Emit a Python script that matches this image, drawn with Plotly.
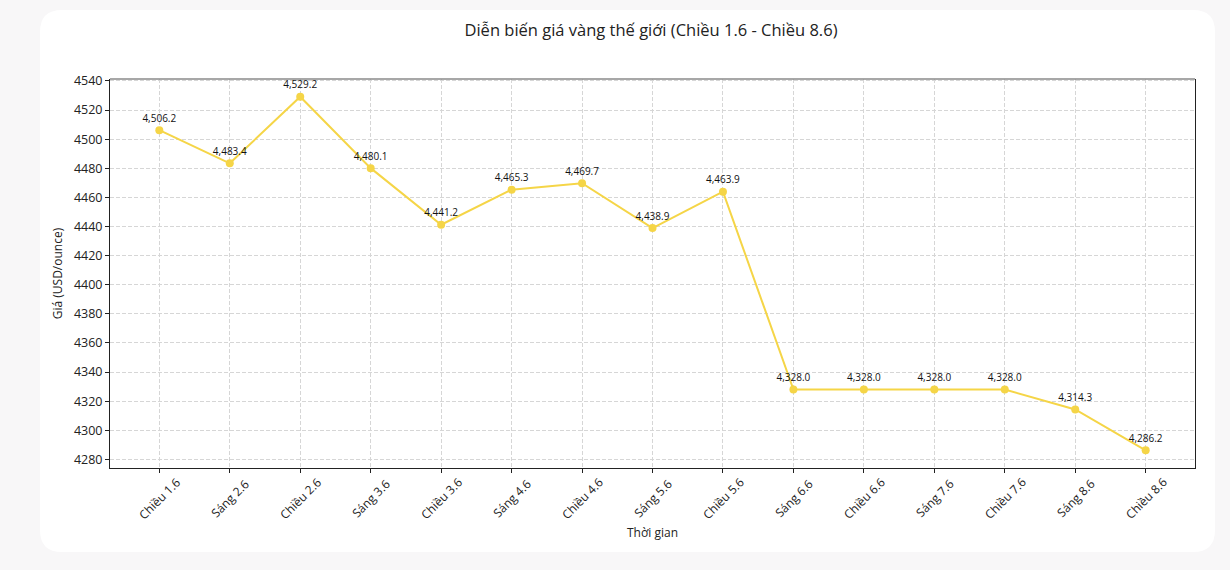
import plotly.graph_objects as go

categories = ["Chiều 1.6", "Sáng 2.6", "Chiều 2.6", "Sáng 3.6", "Chiều 3.6", "Sáng 4.6",
              "Chiều 4.6", "Sáng 5.6", "Chiều 5.6", "Sáng 6.6", "Chiều 6.6", "Sáng 7.6",
              "Chiều 7.6", "Sáng 8.6", "Chiều 8.6"]
prices = [4506.2, 4483.4, 4529.2, 4480.1, 4441.2, 4465.3, 4469.7, 4438.9, 4463.9,
          4328.0, 4328.0, 4328.0, 4328.0, 4314.3, 4286.2]
y_ticks = list(range(4280, 4541, 20))

W, H = 1230, 570
L, R, T, B = 110, 35, 79, 102
pw, ph = W - L - R, H - T - B

FONT = "Open Sans"
LINE = "#f5d547"
GRID = "#d6d6d6"

xs = list(range(len(categories)))

fig = go.Figure()
fig.add_trace(go.Scatter(
    x=xs, y=prices, mode="lines+markers+text",
    line=dict(color=LINE, width=2), marker=dict(color=LINE, size=8),
    text=[f"{v:,.1f}" for v in prices], textposition="top center",
    textfont=dict(family=FONT, size=10, color="#111"), cliponaxis=False,
    hoverinfo="skip", showlegend=False))

# rounded white card
def px(x):
    return (x - L) / pw
def py(y):
    return (H - B - y) / ph
cx0, cx1, cy0, cy1, r = 40, 1215, 10, 552, 22
path = (f"M {px(cx0 + r)} {py(cy0)} L {px(cx1 - r)} {py(cy0)} "
        f"Q {px(cx1)} {py(cy0)} {px(cx1)} {py(cy0 + r)} "
        f"L {px(cx1)} {py(cy1 - r)} Q {px(cx1)} {py(cy1)} {px(cx1 - r)} {py(cy1)} "
        f"L {px(cx0 + r)} {py(cy1)} Q {px(cx0)} {py(cy1)} {px(cx0)} {py(cy1 - r)} "
        f"L {px(cx0)} {py(cy0 + r)} Q {px(cx0)} {py(cy0)} {px(cx0 + r)} {py(cy0)} Z")
fig.add_shape(type="path", path=path, xref="paper", yref="paper",
              fillcolor="white", line=dict(width=0), layer="below")
# top spine (grey)
fig.add_shape(type="line", xref="paper", yref="paper", x0=0, x1=1, y0=1, y1=1,
              line=dict(color="#8a8a8a", width=1.5))

# rotated category labels centred under ticks
for i, c in enumerate(categories):
    fig.add_annotation(x=i, y=0, xref="x", yref="paper", text=c, showarrow=False,
                       textangle=-45, xanchor="center", yanchor="middle",
                       yshift=-30, font=dict(family=FONT, size=12, color="#222"))

ymin, ymax = min(prices), max(prices)
pad = (ymax - ymin) * 0.05

fig.update_layout(
    width=W, height=H, margin=dict(l=L, r=R, t=T, b=B),
    paper_bgcolor="#f8f7f8", plot_bgcolor="white",
    font=dict(family=FONT, color="#222"),
    title=dict(text="Diễn biến giá vàng thế giới (Chiều 1.6 - Chiều 8.6)",
               xref="container", x=651 / W, xanchor="center",
               yref="container", y=1 - 30 / H, yanchor="middle",
               font=dict(size=16.5, color="#222")),
    xaxis=dict(range=[-0.7, len(categories) - 1 + 0.7], tickmode="array",
               tickvals=xs, showticklabels=False,
               showgrid=True, gridcolor=GRID, griddash="4px,2px", gridwidth=1,
               showline=True, linecolor="#222", linewidth=1, mirror=False,
               ticks="outside", ticklen=4, tickcolor="#222", zeroline=False),
    yaxis=dict(range=[ymin - pad, ymax + pad], tickmode="array", tickvals=y_ticks,
               tickfont=dict(size=12.5, color="#222"),
               showgrid=True, gridcolor=GRID, griddash="4px,2px", gridwidth=1,
               showline=True, linecolor="#222", linewidth=1, mirror=True,
               ticks="outside", ticklen=4, tickcolor="#222", zeroline=False,
               title=dict(text="Giá (USD/ounce)", font=dict(size=12), standoff=8)),
)
fig.add_annotation(x=0.5, y=H - 532, xref="paper", yref="paper", yanchor="middle",
                   text="Thời gian", showarrow=False,
                   font=dict(family=FONT, size=12, color="#222"))
fig.layout.annotations[-1].y = py(532)

fig.write_html("out.html")
